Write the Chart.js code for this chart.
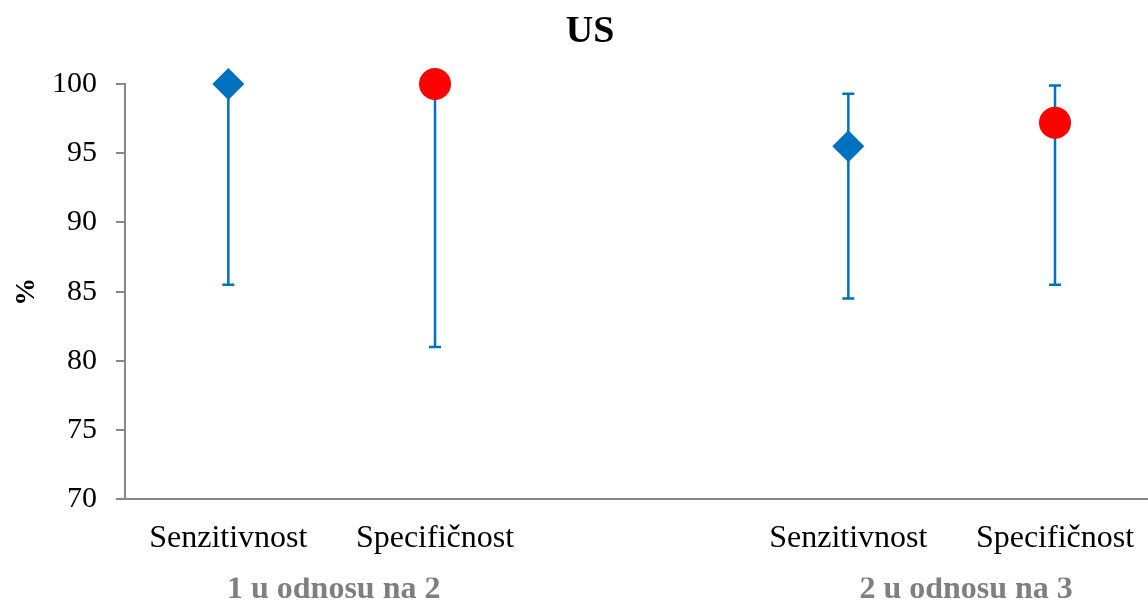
<!DOCTYPE html>
<html>
<head>
<meta charset="utf-8">
<script src="https://cdn.jsdelivr.net/npm/chart.js@4.4.1/dist/chart.umd.min.js"></script>
<style>
  html, body { margin: 0; padding: 0; background: #ffffff; }
  #wrap { width: 1148px; height: 603px; position: relative; }
</style>
</head>
<body>
<div id="wrap"><canvas id="c"></canvas></div>
<script>
// ---- data ----
const chartTitle = 'US';
const yAxisLabel = '%';
const categories = ['Senzitivnost', 'Specifičnost', 'Senzitivnost', 'Specifičnost'];
const categoryPos = [1, 2, 4, 5];
const groupLabels = ['1 u odnosu na 2', '2 u odnosu na 3'];
const groupPos = [1.51, 4.57];
const yTicks = [70, 75, 80, 85, 90, 95, 100];

const sensPos = [1, 4];
const sensValues = [100, 95.5];
const sensLow = [85.5, 84.5];
const sensHigh = [100, 99.3];

const specPos = [2, 5];
const specValues = [100, 97.2];
const specLow = [81.0, 85.5];
const specHigh = [100, 99.9];

// ---- styles ----
const FONT = 'Liberation Serif';
const BLUE = '#0070C0';
const RED = '#FF0000';
const AXIS = '#888888';
const GRAY_TEXT = '#7F7F7F';
const X_MIN = 0.5, X_MAX = 5.45;

Chart.defaults.font.family = FONT;
Chart.defaults.color = '#000000';

const errorBars = {
  id: 'errorBars',
  beforeDatasetsDraw(chart) {
    const {ctx, scales: {x, y}} = chart;
    const sets = [
      {pos: sensPos, low: sensLow, high: sensHigh},
      {pos: specPos, low: specLow, high: specHigh}
    ];
    ctx.save();
    ctx.strokeStyle = BLUE;
    ctx.lineWidth = 2.5;
    const cap = 6;
    sets.forEach(s => {
      s.pos.forEach((p, i) => {
        const px = x.getPixelForValue(p);
        const yl = y.getPixelForValue(s.low[i]);
        const yh = y.getPixelForValue(s.high[i]);
        ctx.beginPath();
        ctx.moveTo(px, yl); ctx.lineTo(px, yh);
        ctx.moveTo(px - cap, yl); ctx.lineTo(px + cap, yl);
        ctx.moveTo(px - cap, yh); ctx.lineTo(px + cap, yh);
        ctx.stroke();
      });
    });
    ctx.restore();
  }
};

const titlePlugin = {
  id: 'titleText',
  afterDraw(chart) {
    const {ctx} = chart;
    ctx.save();
    ctx.font = 'bold 38px "' + FONT + '"';
    ctx.fillStyle = '#000000';
    ctx.textAlign = 'center';
    ctx.textBaseline = 'alphabetic';
    ctx.fillText(chartTitle, 590, 42);
    ctx.restore();
  }
};

new Chart(document.getElementById('c'), {
  type: 'scatter',
  data: {
    datasets: [
      {
        label: 'Senzitivnost',
        data: sensPos.map((p, i) => ({x: p, y: sensValues[i]})),
        pointStyle: 'rectRot',
        pointRadius: 16,
        backgroundColor: BLUE,
        borderColor: BLUE,
        borderWidth: 0,
        clip: false
      },
      {
        label: 'Specifičnost',
        data: specPos.map((p, i) => ({x: p, y: specValues[i]})),
        pointStyle: 'circle',
        pointRadius: 16,
        backgroundColor: RED,
        borderColor: RED,
        borderWidth: 0,
        clip: false
      }
    ]
  },
  options: {
    responsive: true,
    maintainAspectRatio: false,
    animation: false,
    events: [],
    layout: { autoPadding: false, padding: { top: 84, left: 0, right: 0, bottom: 0 } },
    plugins: {
      legend: { display: false },
      tooltip: { enabled: false },
      title: { display: false }
    },
    scales: {
      x: {
        type: 'linear',
        position: 'bottom',
        weight: 0,
        min: X_MIN, max: X_MAX,
        afterBuildTicks(scale) { scale.ticks = categoryPos.map(v => ({value: v})); },
        grid: { display: false, drawTicks: false },
        border: { display: true, color: AXIS, width: 2 },
        ticks: {
          padding: 0,
          font: { size: 32, lineHeight: 2.44 },
          color: '#000000',
          maxRotation: 0,
          autoSkip: false,
          callback(value) { const i = categoryPos.indexOf(value); return i >= 0 ? categories[i] : ''; }
        }
      },
      x2: {
        type: 'linear',
        position: 'bottom',
        weight: 1,
        min: X_MIN, max: X_MAX,
        afterBuildTicks(scale) { scale.ticks = groupPos.map(v => ({value: v})); },
        grid: { display: false, drawTicks: false },
        border: { display: false },
        ticks: {
          padding: 0,
          font: { size: 32, weight: 'bold', lineHeight: 0.8 },
          color: GRAY_TEXT,
          maxRotation: 0,
          autoSkip: false,
          callback(value) { const i = groupPos.indexOf(value); return i >= 0 ? groupLabels[i] : ''; }
        }
      },
      y: {
        type: 'linear',
        min: yTicks[0], max: yTicks[yTicks.length - 1],
        afterBuildTicks(scale) { scale.ticks = yTicks.map(v => ({value: v})); },
        afterFit(scale) { scale.width = 125; },
        grid: { display: true, drawOnChartArea: false, drawTicks: true, tickLength: 9, color: AXIS, lineWidth: 2 },
        border: { display: true, color: AXIS, width: 2 },
        ticks: {
          padding: 19,
          font: { size: 30 },
          color: '#000000'
        },
        title: {
          display: true,
          text: yAxisLabel,
          font: { size: 28, weight: 'bold' },
          color: '#000000',
          padding: { top: 10, bottom: 0 }
        }
      }
    }
  },
  plugins: [errorBars, titlePlugin]
});
</script>
</body>
</html>
